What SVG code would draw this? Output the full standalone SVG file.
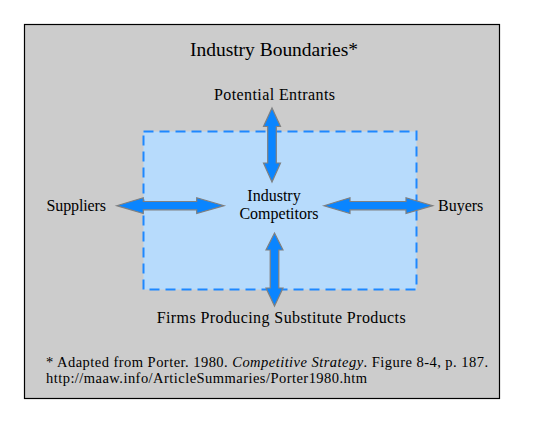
<svg xmlns="http://www.w3.org/2000/svg" width="535" height="423" viewBox="0 0 535 423">
<style>
text{font-family:"Liberation Serif","Times New Roman",serif;fill:#000}
.lbl{font-size:16px}
.arrow{fill:#0A85FF;stroke:#808080;stroke-width:1.2}
</style>
<rect width="535" height="423" fill="#ffffff"/>
<g id="boundary">
<rect x="24.5" y="24.5" width="475" height="374" fill="#CCCCCC" stroke="#000000" stroke-width="1.2"/>
<text x="190" y="55.7" font-size="19.5" textLength="168" lengthAdjust="spacing">Industry Boundaries*</text>
</g>
<g id="competitors">
<rect x="143.5" y="131.5" width="273" height="158" fill="#B7DBFC" stroke="#1E88FF" stroke-width="2" stroke-dasharray="10,6"/>
<text class="lbl" x="274" y="201" text-anchor="middle">Industry</text>
<text class="lbl" x="279" y="219" text-anchor="middle">Competitors</text>
</g>
<g id="entrants">
<text class="lbl" x="214" y="100.3" textLength="121" lengthAdjust="spacing">Potential Entrants</text>
</g>
<g id="suppliers">
<text class="lbl" x="46.5" y="211.3" textLength="59.5" lengthAdjust="spacing">Suppliers</text>
</g>
<g id="buyers">
<text class="lbl" x="438" y="211.3">Buyers</text>
</g>
<g id="substitutes">
<text class="lbl" x="156.7" y="322.7" textLength="249" lengthAdjust="spacing">Firms Producing Substitute Products</text>
</g>
<g id="connectors">
<!-- vertical top: x=272, 108 to 182 -->
<polygon class="arrow" points="272,108 280.5,126.5 276.3,126.5 276.3,163 280.5,163 272,182 263.5,163 267.7,163 267.7,126.5 263.5,126.5"/>
<!-- vertical bottom: x=274.5, 233 to 306 -->
<polygon class="arrow" points="274.5,233 283,250 278.8,250 278.8,288 283,288 274.5,306 266,288 270.2,288 270.2,250 266,250"/>
<!-- left horizontal: 116.7 to 224, y=205.7 -->
<polygon class="arrow" points="116.7,205.7 143.3,197.7 143.3,201.5 196.7,201.5 196.7,197.7 224,205.7 196.7,213.5 196.7,209.8 143.3,209.8 143.3,213.5"/>
<!-- right horizontal: 324 to 432.7 -->
<polygon class="arrow" points="324,205.7 350,197.7 350,201.5 406,201.5 406,197.7 432.7,205.7 406,213.5 406,209.8 350,209.8 350,213.5"/>
</g>
<g id="footnote">
<text x="46" y="367" font-size="14.5" textLength="442" lengthAdjust="spacing">* Adapted from Porter. 1980. <tspan font-style="italic">Competitive Strategy</tspan>. Figure 8-4, p. 187.</text>
<text x="46" y="382.7" font-size="14.5" textLength="321" lengthAdjust="spacing">http://maaw.info/ArticleSummaries/Porter1980.htm</text>
</g>
</svg>
